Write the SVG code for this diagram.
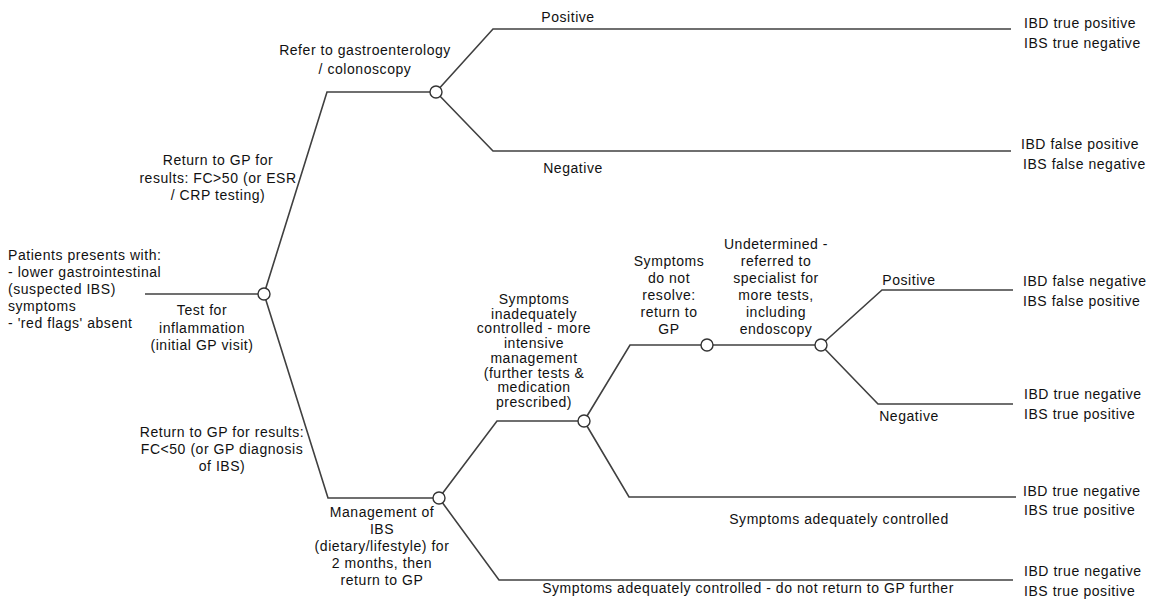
<svg xmlns="http://www.w3.org/2000/svg" width="1149" height="601" viewBox="0 0 1149 601">
<style>
text{font-family:"Liberation Sans",Arial,sans-serif;font-size:14px;fill:#111;letter-spacing:0.55px}
.c{text-anchor:middle}
.ln{fill:none;stroke:#404040;stroke-width:1.6}
.nd{fill:#fff;stroke:#333;stroke-width:1.4}
</style>
<rect width="1149" height="601" fill="#fff"/>
<g id="connectors">
<path class="ln" d="M145 294H258"/>
<path class="ln" d="M264 294L327 92H436"/>
<path class="ln" d="M264 294L328 498H439"/>
<path class="ln" d="M436 92L493 29H1011"/>
<path class="ln" d="M436 92L493 151H1011"/>
<path class="ln" d="M439 498L497 421H584"/>
<path class="ln" d="M439 498L499 580H1013"/>
<path class="ln" d="M584 421L630 345H821"/>
<path class="ln" d="M584 421L629 497H1016"/>
<path class="ln" d="M821 345L882 290H1013"/>
<path class="ln" d="M821 345L878 404H1013"/>
</g>
<g id="start">
<text x="8" y="260">Patients presents with:</text>
<text x="8" y="277">- lower gastrointestinal</text>
<text x="8" y="294">(suspected IBS)</text>
<text x="8" y="311">symptoms</text>
<text x="8" y="328">- 'red flags' absent</text>
</g>
<g id="node-test">
<circle class="nd" cx="264" cy="294" r="6"/>
<text class="c" x="202" y="315">Test for</text>
<text class="c" x="202" y="333">inflammation</text>
<text class="c" x="202" y="350">(initial GP visit)</text>
</g>
<g id="label-fc-high">
<text class="c" x="218" y="165">Return to GP for</text>
<text class="c" x="218" y="183">results: FC&gt;50 (or ESR</text>
<text class="c" x="218" y="200">/ CRP testing)</text>
</g>
<g id="label-fc-low">
<text class="c" x="222" y="437">Return to GP for results:</text>
<text class="c" x="222" y="454">FC&lt;50 (or GP diagnosis</text>
<text class="c" x="222" y="471">of IBS)</text>
</g>
<g id="node-refer">
<circle class="nd" cx="436" cy="92" r="6"/>
<text class="c" x="365" y="55">Refer to gastroenterology</text>
<text class="c" x="365" y="74">/ colonoscopy</text>
</g>
<g id="branch-top">
<text class="c" x="568" y="22">Positive</text>
<text class="c" x="573" y="173">Negative</text>
</g>
<g id="node-management">
<circle class="nd" cx="439" cy="498" r="6"/>
<text class="c" x="382" y="517">Management of</text>
<text class="c" x="382" y="534">IBS</text>
<text class="c" x="382" y="551">(dietary/lifestyle) for</text>
<text class="c" x="382" y="568">2 months, then</text>
<text class="c" x="382" y="585">return to GP</text>
</g>
<g id="node-intensive">
<circle class="nd" cx="584" cy="421" r="6"/>
<text class="c" x="534" y="304">Symptoms</text>
<text class="c" x="534" y="318.7">inadequately</text>
<text class="c" x="534" y="333.4">controlled - more</text>
<text class="c" x="534" y="348.1">intensive</text>
<text class="c" x="534" y="362.8">management</text>
<text class="c" x="534" y="377.5">(further tests &amp;</text>
<text class="c" x="534" y="392.2">medication</text>
<text class="c" x="534" y="407">prescribed)</text>
</g>
<g id="node-return">
<circle class="nd" cx="707" cy="345" r="6"/>
<text class="c" x="669" y="266">Symptoms</text>
<text class="c" x="669" y="283">do not</text>
<text class="c" x="669" y="300">resolve:</text>
<text class="c" x="669" y="317">return to</text>
<text class="c" x="669" y="334">GP</text>
</g>
<g id="node-specialist">
<circle class="nd" cx="821" cy="345" r="6"/>
<text class="c" x="776" y="249">Undetermined -</text>
<text class="c" x="776" y="266">referred to</text>
<text class="c" x="776" y="283">specialist for</text>
<text class="c" x="776" y="300">more tests,</text>
<text class="c" x="776" y="317">including</text>
<text class="c" x="776" y="334">endoscopy</text>
</g>
<g id="branch-specialist">
<text class="c" x="909" y="285">Positive</text>
<text class="c" x="909" y="421">Negative</text>
</g>
<g id="branch-controlled">
<text class="c" x="839" y="524">Symptoms adequately controlled</text>
<text class="c" x="748" y="593">Symptoms adequately controlled - do not return to GP further</text>
</g>
<g id="outcomes">
<text x="1024" y="28">IBD true positive</text>
<text x="1024" y="48">IBS true negative</text>
<text x="1021" y="149">IBD false positive</text>
<text x="1023" y="169">IBS false negative</text>
<text x="1023" y="286">IBD false negative</text>
<text x="1023" y="306">IBS false positive</text>
<text x="1024" y="399">IBD true negative</text>
<text x="1024" y="419">IBS true positive</text>
<text x="1023" y="496">IBD true negative</text>
<text x="1024" y="515">IBS true positive</text>
<text x="1024" y="576">IBD true negative</text>
<text x="1024" y="596">IBS true positive</text>
</g>
</svg>
